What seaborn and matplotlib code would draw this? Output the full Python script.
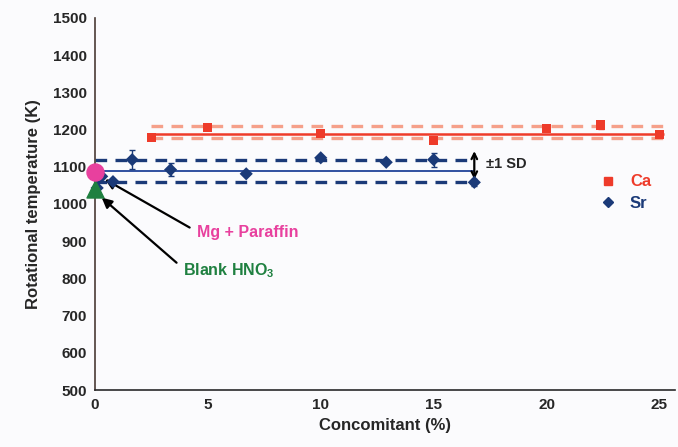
import numpy as np
import pandas as pd
import matplotlib
matplotlib.use("Agg")
import matplotlib.pyplot as plt
import seaborn as sns
from matplotlib.lines import Line2D

# Оформление
sns.set_style("white")
plt.rcParams['font.family'] = ['Liberation Sans', 'DejaVu Sans']
plt.rcParams['font.weight'] = 'bold'
plt.rcParams['mathtext.fontset'] = 'custom'
plt.rcParams['mathtext.rm'] = 'Liberation Sans:bold'
plt.rcParams['mathtext.bf'] = 'Liberation Sans:bold'

# Данные
ca_x = [2.5, 5.0, 10.0, 15.0, 20.0, 22.4, 25.0]
ca_y = [1178, 1205, 1190, 1171, 1203, 1212, 1187]
ca_err = [5, 6, 6, 6, 5, 10, 5]

sr_x = [0.3, 0.1, 0.8, 1.65, 3.35, 6.7, 10.0, 12.9, 15.0, 16.8]
sr_y = [1074, 1043, 1060, 1119, 1092, 1081, 1124, 1112, 1119, 1058]
sr_err = [4, 4, 4, 25, 17, 4, 5, 5, 19, 10]

ca_levels = [1176, 1188, 1209]   # -SD, mean, +SD
sr_levels = [1058, 1089, 1119]
ca_span = [2.5, 25.2]
sr_span = [0.0, 16.8]

mg_x, mg_y = [0.0], [1087]
blank_x, blank_y = [0.0], [1040]

ca_color = '#EE3B2A'
ca_light = '#F5A08A'
sr_color = '#1B3A78'
sr_line = '#3050A0'
mg_color = '#E8409E'
blank_color = '#1F8040'

df = pd.concat([
    pd.DataFrame({'x': ca_x, 'y': ca_y, 'el': 'Ca'}),
    pd.DataFrame({'x': sr_x, 'y': sr_y, 'el': 'Sr'}),
])

fig = plt.figure(figsize=(6.78, 4.47), dpi=100, facecolor='#fbfbfd')
ax = fig.add_axes([0.140, 0.1275, 0.856, 0.8325])
ax.set_facecolor('#fbfbfd')

# Горизонтальные линии среднего и ±1 SD
ax.hlines(ca_levels[1], *ca_span, color=ca_color, lw=1.8, zorder=2)
ax.hlines([ca_levels[0], ca_levels[2]], ca_span[0], ca_span[1] + 0.2, color=ca_light,
          lw=2.4, linestyles=(0, (3.5, 2.5)), zorder=2)
ax.hlines(sr_levels[1], *sr_span, color=sr_line, lw=1.4, zorder=2)
ax.hlines([sr_levels[0], sr_levels[2]], *sr_span, color=sr_color,
          lw=2.4, linestyles=(0, (3.5, 2.5)), zorder=2)

ax.errorbar(ca_x, ca_y, yerr=ca_err, fmt='none', ecolor=ca_color, elinewidth=1, capsize=2, zorder=3)
ax.errorbar(sr_x, sr_y, yerr=sr_err, fmt='none', ecolor=sr_color, elinewidth=1, capsize=2, zorder=3)

sns.scatterplot(data=df, x='x', y='y', hue='el', style='el',
                palette={'Ca': ca_color, 'Sr': sr_color},
                markers={'Ca': 's', 'Sr': 'D'}, s=45, linewidth=0,
                legend=False, ax=ax, zorder=4, clip_on=False)

ax.scatter(blank_x, blank_y, marker='^', s=150, color=blank_color, zorder=5, clip_on=False)
ax.scatter(mg_x, mg_y, marker='o', s=150, color=mg_color, zorder=5, clip_on=False)

# Аннотации
arrow_kw = dict(arrowstyle='-|>', color='black', lw=1.6, mutation_scale=15,
                shrinkA=3, shrinkB=0, relpos=(0, 0.6))
ax.annotate('Mg + Paraffin', xy=(0.45, 1066), xytext=(4.5, 922),
            color=mg_color, fontsize=11.5, fontweight='bold', va='center', ha='left',
            arrowprops=arrow_kw)
ax.annotate('Blank HNO$_3$', xy=(0.3, 1017), xytext=(3.9, 822),
            color=blank_color, fontsize=11.5, fontweight='bold', va='center', ha='left',
            arrowprops=arrow_kw)
ax.annotate('', xy=(16.8, 1142), xytext=(16.8, 1066),
            arrowprops=dict(arrowstyle='<->', color='black', lw=1.6, mutation_scale=10,
                            shrinkA=0, shrinkB=0))
ax.text(17.3, 1108, '±1 SD', fontsize=10.5, fontweight='bold', va='center', ha='left')

handles = [
    Line2D([], [], marker='s', ls='', color=ca_color, markersize=6, label='Ca'),
    Line2D([], [], marker='D', ls='', color=sr_color, markersize=5, label='Sr'),
]
leg = ax.legend(handles=handles, loc='center left', bbox_to_anchor=(0.83, 0.53),
                frameon=False, handletextpad=0.3, labelspacing=0.4,
                prop={'size': 12, 'weight': 'bold'}, labelcolor=[ca_color, sr_color])

ax.set_xlim(0, 25.7)
ax.set_ylim(500, 1500)
ax.set_xticks([0, 5, 10, 15, 20, 25])
ax.set_yticks(range(500, 1501, 100))
ax.tick_params(axis='both', length=0, labelsize=11, pad=6)
for lab in ax.get_xticklabels() + ax.get_yticklabels():
    lab.set_fontweight('bold')
ax.set_xlabel('Concomitant (%)', fontsize=12, fontweight='bold', labelpad=4)
ax.set_ylabel('Rotational temperature (K)', fontsize=12, fontweight='bold', labelpad=8)

for side in ['top', 'right']:
    ax.spines[side].set_visible(False)
ax.spines['left'].set_color('#4a3a35')
ax.spines['bottom'].set_color('#2a2a2a')
ax.spines['left'].set_linewidth(1.2)
ax.spines['bottom'].set_linewidth(1.2)

fig.savefig('out.png', dpi=100, facecolor=fig.get_facecolor())
